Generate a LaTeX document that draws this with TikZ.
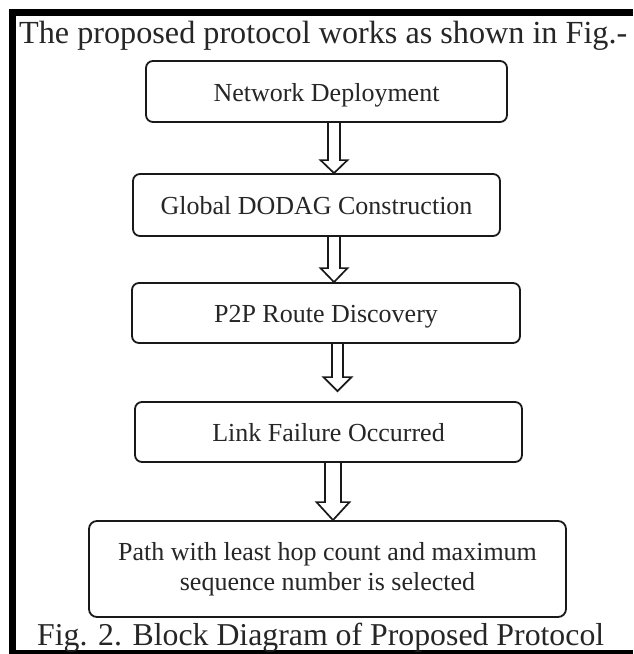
\documentclass[tikz,border=0pt]{standalone}
\usepackage{fontspec}
\setmainfont{Liberation Serif}
\usetikzlibrary{calc}
\newcommand\blockarrow[7]{% from, to, x, shaft half, head half, head length, tip gap
  \draw[blk] let \p1=(#1.south), \p2=(#2.north) in
    (#3-#4,\y1) -- (#3-#4,\y2+#6+#7) -- (#3-#5,\y2+#6+#7) -- (#3,\y2+#7)
    -- (#3+#5,\y2+#6+#7) -- (#3+#4,\y2+#6+#7) -- (#3+#4,\y1);}
\begin{document}
\begin{tikzpicture}[x=1pt,y=1pt,
  box/.style={draw=black!90, line width=1.8pt, rounded corners=7pt, inner sep=0pt,
    text=black!85, font=\fontsize{26}{29.5}\selectfont, text height=19pt, text depth=0pt},
  bigbox/.style={draw=black!90, line width=1.8pt, rounded corners=8pt, inner sep=0pt,
    text=black!85, font=\fontsize{26}{30}\selectfont, align=center},
  blk/.style={draw=black!90, line width=1.7pt, line join=miter},
  big/.style={text=black!85, font=\fontsize{32.2}{38}\selectfont, inner sep=0pt, anchor=base west}]
\useasboundingbox (0,0) rectangle (633,-654);
\fill[white] (0,0) rectangle (633,-654);
% frame
\fill[black] (9,-9) rectangle (633,-15.5);
\fill[black] (9,-9) rectangle (15.5,-654);
\fill[black] (9,-649.5) rectangle (633,-654);
% texts
\node[big] (title) at (19,-43) {The proposed protocol works as shown in Fig.-};
\node[big, font=\fontsize{31.8}{38}\selectfont] (caption) at (37,-645) {Fig. 2. Block Diagram of Proposed Protocol};
% boxes
\node[box, minimum width=361pt, minimum height=61pt] (b1) at (326.5,-91.5) {Network Deployment};
\node[box, minimum width=367pt, minimum height=62pt] (b2) at (316.5,-205) {Global DODAG Construction};
\node[box, minimum width=388pt, minimum height=60pt] (b3) at (326,-313) {P2P Route Discovery};
\node[box, minimum width=387pt, minimum height=60pt] (b4) at (328.5,-432) {Link Failure Occurred};
\node[bigbox, minimum width=477pt, minimum height=96pt] (b5) at (327.5,-569) {Path with least hop count and maximum\\sequence number is selected};
% arrows
\blockarrow{b1}{b2}{334}{6}{13.5}{13}{0}
\blockarrow{b2}{b3}{334}{6}{13.5}{14}{0}
\blockarrow{b3}{b4}{337.5}{5.5}{14}{14}{10}
\blockarrow{b4}{b5}{333}{8}{16.5}{18}{0}
\end{tikzpicture}
\end{document}
